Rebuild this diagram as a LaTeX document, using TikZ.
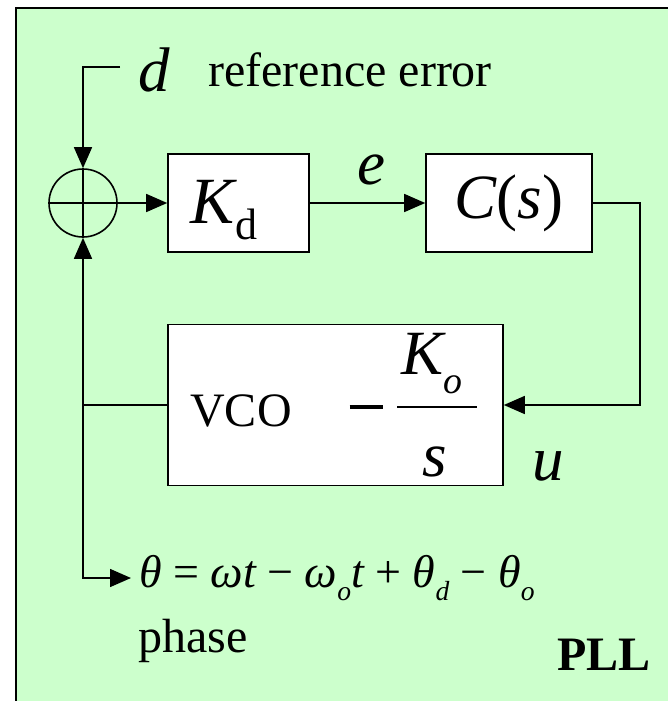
\documentclass[tikz,border=0pt]{standalone}
\usepackage{fontspec}
\setmainfont{Liberation Serif}
\usetikzlibrary{arrows.meta, positioning, calc}
\definecolor{pllgreen}{RGB}{204,255,204}
\newcommand{\txtf}{\fontsize{48}{56}\selectfont}
\newcommand{\symf}{\fontsize{63}{70}\selectfont}
\newcommand{\eqf}{\fontsize{46}{52}\selectfont}
\newcommand{\subrm}[1]{\raisebox{-0.25em}{\fontsize{44}{44}\selectfont\upshape #1}}
\newcommand{\subit}[1]{\raisebox{-0.3em}{\fontsize{0.6em}{0.6em}\selectfont\itshape #1}}
\tikzset{
	block/.style={draw, line width=1.6pt, fill=white, inner sep=0pt},
	junction/.style={circle, draw, line width=1.6pt, minimum size=68pt, inner sep=0pt},
	wire/.style={draw, line width=1.5pt},
	sig/.style={wire, -{Triangle[length=21pt,width=18pt]}},
	lbl/.style={inner sep=0pt, font=\txtf},
	sym/.style={inner sep=0pt, font=\symf\itshape}
}
\begin{document}
\begin{tikzpicture}[x=1pt, y=-1pt]
	\useasboundingbox (0,0) rectangle (667,701);
	\draw[line width=2pt, fill=pllgreen] (16,8) rectangle (700,730);
	\node[junction] (sum) at (83,203) {};
	\draw[wire] (sum.north) -- (sum.south) (sum.west) -- (sum.east);
	\node[block, minimum width=141pt, minimum height=98pt] (kd) at (238.5,203) {};
	\node[sym, font=\fontsize{66}{72}\selectfont\itshape] (kdlbl) at (224,210) {K\subrm{d}};
	\node[block, minimum width=166pt, minimum height=98pt] (cs) at (509,203) {\symf\itshape C\upshape(\itshape s\upshape)};
	\node[block, minimum width=335pt, minimum height=161pt] (vco) at (335.5,405) {};
	\node[lbl] (vcolbl) at (241,411) {VCO};
	\node[inner sep=0pt] (minus) at (366,407) {\rule{33pt}{3.5pt}};
	\node[sym] (ko) at (432,364) {K\subit{o}};
	\node[sym] (sden) at (435,462) {s};
	\draw[line width=2pt] (397,407) -- (477,407);
	\coordinate (din) at (120,67);
	\node[sym] (dlbl) at (154,70) {d};
	\node[lbl, anchor=west] (referr) at (208,70) {reference error};
	\node[sym] (elbl) at (371,170) {e};
	\node[sym] (ulbl) at (548,466) {u};
	\node[inner xsep=8pt, inner ysep=0pt, anchor=west, font=\eqf] (phaseeq) at (131,578)
		{\itshape θ \upshape= \itshape ωt \upshape− \itshape ω\subit{o}t \upshape+ \itshape θ\subit{d} \upshape− \itshape θ\subit{o}};
	\node[lbl, anchor=west] (phaselbl) at (138,641) {phase};
	\node[lbl, anchor=east, font=\txtf\bfseries] (plllbl) at (651,655) {PLL};
	\coordinate (csout) at (640,203);
	\coordinate (tap) at (sum.south |- vco.west);
	\draw[sig] (din) -| (sum.north);
	\draw[sig] (sum.east) -- (kd.west);
	\draw[sig] (kd.east) -- (cs.west);
	\draw[sig] (cs.east) -- (csout) |- (vco.east);
	\draw[sig] (vco.west) -- (tap) -- (sum.south);
	\draw[sig] (tap) |- (phaseeq.west);
\end{tikzpicture}
\end{document}
